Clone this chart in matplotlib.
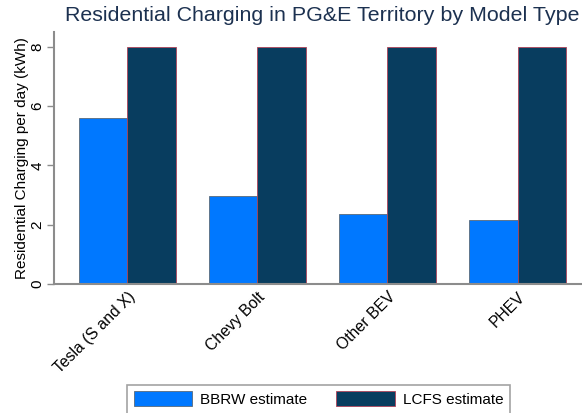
import matplotlib
matplotlib.use("Agg")
import matplotlib.pyplot as plt
import numpy as np

plt.rcParams['font.family'] = ['Liberation Sans', 'DejaVu Sans']

# data
models = ["Tesla (S and X)", "Chevy Bolt", "Other BEV", "PHEV"]
bbrw = [5.6, 2.98, 2.37, 2.17]
lcfs = [8.0, 8.0, 8.0, 8.0]
yticks = [0, 2, 4, 6, 8]

blue = "#0078ff"
navy = "#083d5f"
grey = "#8c8c8c"

fig = plt.figure(figsize=(5.82, 4.13), dpi=100)
ax = fig.add_axes([0.0928, 0.3123, 0.9072, 0.6102])

x = np.arange(len(models))
w = 0.371
ax.bar(x - w / 2, bbrw, w, color=blue, edgecolor="#5a6a7a", linewidth=0.6, label="BBRW estimate")
ax.bar(x + w / 2, lcfs, w, color=navy, edgecolor="#b0445a", linewidth=0.6, label="LCFS estimate")

ax.set_xlim(-0.563, 3.495)
ax.set_ylim(0, 8.5)
ax.set_yticks(yticks)
ax.set_yticklabels([str(v) for v in yticks], rotation=90, va="center", fontsize=11)
ax.set_xticks(x)
ax.set_xticklabels(models, rotation=45, ha="right", rotation_mode="anchor", fontsize=11.3)
ax.tick_params(axis="x", length=0, pad=4)
ax.tick_params(axis="y", length=5, color=grey, width=1, pad=2)

for s in ["top", "right"]:
    ax.spines[s].set_visible(False)
for s in ["left", "bottom"]:
    ax.spines[s].set_color(grey)
    ax.spines[s].set_linewidth(1.5)

ax.set_ylabel("Residential Charging per day (kWh)", fontsize=11, labelpad=1)

fig.text(65 / 582, 1 - 6 / 413, "Residential Charging in PG&E Territory by Model Type",
         ha="left", va="top", fontsize=15.4, color="#1c3150")

leg = fig.legend(loc="upper left", bbox_to_anchor=(127 / 582, 1 - 384.5 / 413), ncol=2,
                 fontsize=11, frameon=True, fancybox=False, edgecolor=grey,
                 handlelength=3.8, handleheight=1.05, handletextpad=0.55,
                 columnspacing=1.9, borderpad=0.45, borderaxespad=0)
leg.get_frame().set_linewidth(1.2)

fig.savefig("out.png", dpi=100)
